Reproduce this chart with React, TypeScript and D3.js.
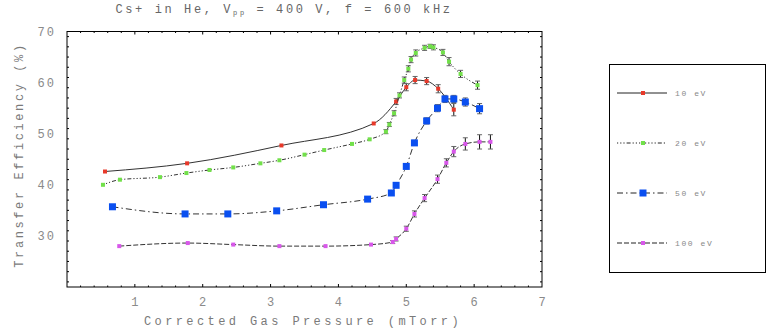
import { useMemo } from "react";
import * as d3 from "d3";

// ── Data ──────────────────────────────────────────────────────
const X_TICKS = [1, 2, 3, 4, 5, 6, 7];
const Y_TICKS = [30, 40, 50, 60, 70];

const X10 = [0.56, 1.77, 3.16, 4.52, 4.85, 5.0, 5.13, 5.3, 5.47, 5.7];
const Y10 = [42.6, 44.2, 47.7, 52.0, 56.3, 59.1, 60.5, 60.3, 58.8, 54.7];
const E10 = [0, 0, 0, 0, 0.6, 0.7, 0.7, 0.7, 0.8, 1.2];

const X20 = [0.53, 0.78, 1.37, 1.76, 2.1, 2.45, 2.85, 3.13, 3.5, 3.79, 4.2, 4.46, 4.7, 4.75, 4.82, 4.9, 4.97, 5.03, 5.07, 5.14, 5.27, 5.35, 5.4, 5.54, 5.63, 5.8, 6.05];
const Y20 = [40.0, 41.0, 41.5, 42.3, 42.9, 43.4, 44.2, 44.8, 45.9, 46.8, 48.0, 48.9, 50.4, 51.8, 54.0, 57.5, 60.5, 62.7, 64.5, 65.8, 66.8, 67.1, 66.9, 65.9, 64.1, 61.7, 59.5];
const E20 = [0, 0, 0, 0, 0, 0, 0, 0, 0, 0, 0, 0, 0.4, 0.4, 0.5, 0.5, 0.6, 0.6, 0.6, 0.6, 0.5, 0.4, 0.5, 0.6, 0.8, 0.7, 0.8];

const X50 = [0.67, 1.74, 2.37, 3.09, 3.78, 4.43, 4.78, 4.85, 5.0, 5.12, 5.3, 5.46, 5.57, 5.7, 5.87, 6.08];
const Y50 = [35.7, 34.3, 34.3, 34.9, 36.1, 37.2, 38.4, 39.9, 43.6, 48.2, 52.5, 55.0, 56.8, 56.8, 56.2, 54.9];
const E50 = [0, 0, 0, 0, 0, 0, 0, 0.4, 0.5, 0.5, 0.6, 0.7, 0.7, 0.7, 0.8, 1.0];

const X100 = [0.77, 1.78, 2.45, 3.13, 3.81, 4.48, 4.8, 4.85, 5.0, 5.12, 5.27, 5.46, 5.59, 5.7, 5.87, 6.08, 6.24];
const Y100 = [28.0, 28.6, 28.3, 28.0, 28.0, 28.3, 28.8, 29.4, 31.4, 34.3, 37.4, 41.1, 44.3, 46.5, 48.0, 48.4, 48.4];
const E100 = [0, 0, 0, 0, 0, 0, 0.3, 0.4, 0.5, 0.6, 0.7, 0.8, 0.8, 1.0, 1.2, 1.4, 1.4];

interface Series {
  label: string;
  xs: number[];
  ys: number[];
  errs: number[];
  color: string;
  dash: string;
  size: number;
}

const SERIES: Series[] = [
  { label: "10 eV", xs: X10, ys: Y10, errs: E10, color: "#e8392a", dash: "none", size: 4 },
  { label: "20 eV", xs: X20, ys: Y20, errs: E20, color: "#72e04a", dash: "1.2,2,1.2,2,1.2,2,4,2", size: 4 },
  { label: "50 eV", xs: X50, ys: Y50, errs: E50, color: "#0a4ff0", dash: "6,3,1.5,3", size: 7 },
  { label: "100 eV", xs: X100, ys: Y100, errs: E100, color: "#d857ea", dash: "5,2", size: 4 },
];

// ── Layout ────────────────────────────────────────────────────
const W = 766;
const H = 329;
const L = 67;
const R = 542;
const T = 31.5;
const B = 287;
const FONT = "'Liberation Mono', 'DejaVu Sans Mono', monospace";

export default function App() {
  const x = useMemo(() => d3.scaleLinear().domain([0, 7]).range([L, R]), []);
  const y = useMemo(() => d3.scaleLinear().domain([20, 70]).range([B, T]), []);

  const xMinor = d3.range(1, 35).map((i) => i * 0.2);
  const yMinor = d3.range(21, 70, 2);

  const lineFn = d3
    .line<[number, number]>()
    .x((d) => x(d[0]))
    .y((d) => y(d[1]))
    .curve(d3.curveMonotoneX);

  return (
    <div style={{ position: "fixed", left: 0, top: 0 }}>
      <svg width={W} height={H} style={{ display: "block", background: "#fff" }}>
        {/* title */}
        <text x={284} y={13} textAnchor="middle" fontFamily={FONT} fontSize={12} letterSpacing={2.6} fill="#666">
          Cs+ in He, V<tspan fontSize={7} dy={2}>pp</tspan>
          <tspan dy={-2}> = 400 V, f = 600 kHz</tspan>
        </text>

        {/* frame */}
        <rect x={L} y={T} width={R - L} height={B - T} fill="none" stroke="#000" strokeWidth={1} />

        {/* x ticks bottom & top */}
        {xMinor.map((v) => {
          const major = Math.abs(v - Math.round(v)) < 1e-6;
          const len = major ? 3 : 1.5;
          return (
            <g key={`xt${v}`} stroke="#000" strokeWidth={1}>
              <line x1={x(v)} x2={x(v)} y1={B} y2={B - len} />
              <line x1={x(v)} x2={x(v)} y1={T} y2={T + len} />
            </g>
          );
        })}
        {/* y ticks left & right */}
        {yMinor.map((v) => {
          const major = v % 10 === 0;
          const len = major ? 3 : 2;
          return (
            <g key={`yt${v}`} stroke="#000" strokeWidth={1}>
              <line x1={L} x2={L + len} y1={y(v)} y2={y(v)} />
              <line x1={R} x2={R - len} y1={y(v)} y2={y(v)} />
            </g>
          );
        })}

        {/* tick labels */}
        {X_TICKS.map((v) => (
          <text key={`xl${v}`} x={x(v)} y={306} textAnchor="middle" fontFamily={FONT} fontSize={12} fill="#8a8a8a">
            {v}
          </text>
        ))}
        {Y_TICKS.map((v) => (
          <text key={`yl${v}`} x={56} y={y(v) + 4} textAnchor="end" fontFamily={FONT} fontSize={12} letterSpacing={2} fill="#8a8a8a">
            {v}
          </text>
        ))}

        {/* axis titles */}
        <text x={303} y={325} textAnchor="middle" fontFamily={FONT} fontSize={12} letterSpacing={3.4} fill="#7a7a7a">
          Corrected Gas Pressure (mTorr)
        </text>
        <text
          transform={`translate(23,155) rotate(-90)`}
          textAnchor="middle"
          fontFamily={FONT}
          fontSize={12}
          letterSpacing={2.6}
          fill="#7a7a7a"
        >
          Transfer Efficiency (%)
        </text>

        {/* series */}
        {SERIES.map((s) => {
          const pts = s.xs.map((v, i) => [v, s.ys[i]] as [number, number]);
          return (
            <g key={s.label}>
              <path d={lineFn(pts) ?? ""} fill="none" stroke="#333" strokeWidth={1} strokeDasharray={s.dash} />
              {pts.map(([px, py], i) =>
                s.errs[i] > 0 ? (
                  <g key={`e${i}`} stroke="#111" strokeWidth={1}>
                    <line x1={x(px)} x2={x(px)} y1={y(py - s.errs[i])} y2={y(py + s.errs[i])} />
                    <line x1={x(px) - 2.5} x2={x(px) + 2.5} y1={y(py - s.errs[i])} y2={y(py - s.errs[i])} stroke="#666" />
                    <line x1={x(px) - 2.5} x2={x(px) + 2.5} y1={y(py + s.errs[i])} y2={y(py + s.errs[i])} stroke="#666" />
                  </g>
                ) : null
              )}
              {pts.map(([px, py], i) => (
                <rect
                  key={`m${i}`}
                  x={x(px) - s.size / 2}
                  y={y(py) - s.size / 2}
                  width={s.size}
                  height={s.size}
                  fill={s.color}
                />
              ))}
            </g>
          );
        })}

        {/* legend */}
        <rect x={609.5} y={64.5} width={156} height={208} fill="none" stroke="#000" strokeWidth={1} />
        {SERIES.map((s, i) => {
          const ly = 93 + i * 50;
          return (
            <g key={`lg${s.label}`}>
              <line x1={617} x2={667} y1={ly} y2={ly} stroke="#222" strokeWidth={1} strokeDasharray={s.dash} />
              <rect x={643 - s.size / 2} y={ly - s.size / 2} width={s.size} height={s.size} fill={s.color} />
              <text x={675} y={ly + 3} fontFamily={FONT} fontSize={8} letterSpacing={1.6} fill="#888">
                {s.label}
              </text>
            </g>
          );
        })}
      </svg>
    </div>
  );
}
